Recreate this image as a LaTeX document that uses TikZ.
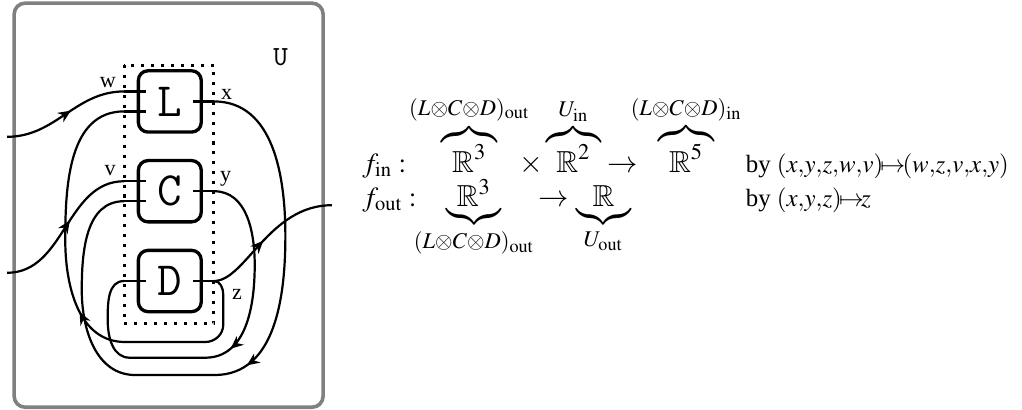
\documentclass[tikz,border=0pt]{standalone}
\usepackage{mathptmx}
\usepackage{amssymb}
\usepackage{fontspec}
\setmainfont{Liberation Serif}
\newfontfamily\timesrm{Liberation Serif}
\usetikzlibrary{arrows.meta,positioning,calc,decorations.markings}
\definecolor{frame}{RGB}{128,128,128}
\tikzset{
  >={Stealth[length=4.6pt,width=4pt,inset=1.5pt]},
  unit/.style={draw,very thick,rounded corners=3.5pt,minimum width=8mm,
    minimum height=7.8mm,inner sep=0pt,font=\LARGE\ttfamily},
  wire/.style={thick},
  mid arrow/.style={postaction={decorate},
    decoration={markings,mark=at position #1 with {\arrow{>}}}},
  mid arrow/.default=0.5,
  port lbl/.style={font=\timesrm\footnotesize,inner sep=0pt},
  eqn/.style={anchor=base,inner sep=0pt,font=\timesrm},
  braced/.style={eqn,font=\timesrm\fontsize{11}{13}\selectfont},
}

\begin{document}
\begin{tikzpicture}
  \useasboundingbox (0,0) rectangle (13,-5.215);
  % the outer box U
  \draw[line width=1.3pt,draw=frame,rounded corners=4pt] (0.18,-0.04) rectangle (4.11,-5.18);
  \node[font=\ttfamily,anchor=base west,inner sep=0pt] (U) at (3.47,-0.83) {U};
  % the three inner boxes
  \node[unit] (L) at (2.16,-1.29) {L};
  \node[unit,below=3.2mm of L] (C) {C};
  \node[unit,below=3.2mm of C] (D) {D};
  \draw[line width=1.1pt,dash pattern=on 1.1pt off 2.5pt]
    ($(L.north west)+(-0.16,0.05)$) rectangle ($(D.south east)+(0.14,-0.13)$);
  % ports
  \coordinate (Lw) at ($(L.west)+(-0.16,0.127)$);
  \coordinate (Lz) at ($(L.west)+(-0.16,-0.127)$);
  \coordinate (Lx) at ($(L.east)+(0.14,0)$);
  \coordinate (Cv) at ($(C.west)+(-0.16,0.127)$);
  \coordinate (Cx) at ($(C.west)+(-0.16,-0.127)$);
  \coordinate (Cy) at ($(C.east)+(0.14,0)$);
  \coordinate (Dy) at ($(D.west)+(-0.16,0)$);
  \coordinate (Dz) at ($(D.east)+(0.14,0)$);
  \coordinate (win) at (0.09,-1.74);
  \coordinate (vin) at (0.09,-3.47);
  \coordinate (zout) at (4.22,-2.61);
  \foreach \p in {Lw,Lz,Cv,Cx,Dy} \draw[wire] (\p) -- ++(0.28,0);
  \foreach \p in {Lx,Cy,Dz} \draw[wire] (\p) -- ++(-0.26,0);
  % wires
  \draw[wire,mid arrow=0.55] (win) to[out=0,in=180] (Lw);
  \draw[wire,mid arrow=0.55] (vin) to[out=0,in=180] (Cv);
  \draw[wire,mid arrow=0.45] (Dz) .. controls +(0.4,0) and +(-0.8,0) .. (zout);
  \draw[wire,mid arrow=0.48] (Lx) to[out=0,in=90] (3.63,-3.0) to[out=-90,in=0] (2.73,-4.77)
    -- (1.72,-4.77) to[out=180,in=-90] (1.04,-3.69) to[out=90,in=180] (Cx);
  \draw[wire,mid arrow=0.48] (Cy) to[out=0,in=90] (3.24,-3.37) to[out=-90,in=0] (2.61,-4.55)
    -- (1.65,-4.55) to[out=180,in=-90] (1.37,-4.07) to[out=90,in=180] (Dy);
  \draw[wire,mid arrow=0.48] (Dz) to[out=0,in=90] (2.84,-3.75) -- (2.84,-4.13)
    to[out=-90,in=0] (2.61,-4.35) -- (1.59,-4.35) to[out=180,in=-90] (0.83,-3.05)
    to[out=90,in=180] (Lz);
  % port names
  \node[port lbl,anchor=base east] (wl) at ($(Lw)+(-0.10,0.056)$) {w};
  \node[port lbl,anchor=base east] (vl) at ($(Cv)+(-0.10,0.075)$) {v};
  \node[port lbl,anchor=base west] (xl) at ($(Lx)+(0.086,0.025)$) {x};
  \node[port lbl,anchor=base west] (yl) at ($(Cy)+(0.073,0.126)$) {y};
  \node[port lbl,anchor=base west] (zl) at ($(Dz)+(0.226,-0.229)$) {z};
  % the two maps
  \node[eqn,anchor=base west] (fin) at (4.605,-2.19) {$f_{\mathrm{in}}:$};
  \node[braced] (dom) at (5.97,-2.19) {$\overbrace{\mathbb{R}^3}^{(L\otimes C\otimes D)_{\mathrm{out}}}$};
  \node[braced] (uin) at (7.36,-2.19) {$\times\overbrace{\mathbb{R}^2}^{U_{\mathrm{in}}}\to$};
  \node[braced] (cod) at (8.73,-2.19) {$\overbrace{\mathbb{R}^5}^{(L\otimes C\otimes D)_{\mathrm{in}}}$};
  \node[eqn,anchor=base west,font=\timesrm\small] (fmap) at (9.48,-2.19)
    {by $(x{,}y{,}z{,}w{,}v)\!{\mapsto}\!(w{,}z{,}v{,}x{,}y)$};
  \node[eqn,anchor=base west] (fout) at (4.605,-2.63) {$f_{\mathrm{out}}:$};
  \node[braced] (dom2) at (6.03,-2.63) {$\underbrace{\mathbb{R}^3}_{(L\otimes C\otimes D)_{\mathrm{out}}}$};
  \node[braced] (uout) at (7.44,-2.63) {$\to\underbrace{\mathbb{R}}_{U_{\mathrm{out}}}$};
  \node[eqn,anchor=base west,font=\timesrm\small] (gmap) at (9.48,-2.63)
    {by $(x{,}y{,}z)\!{\mapsto}\!z$};
\end{tikzpicture}
\end{document}
